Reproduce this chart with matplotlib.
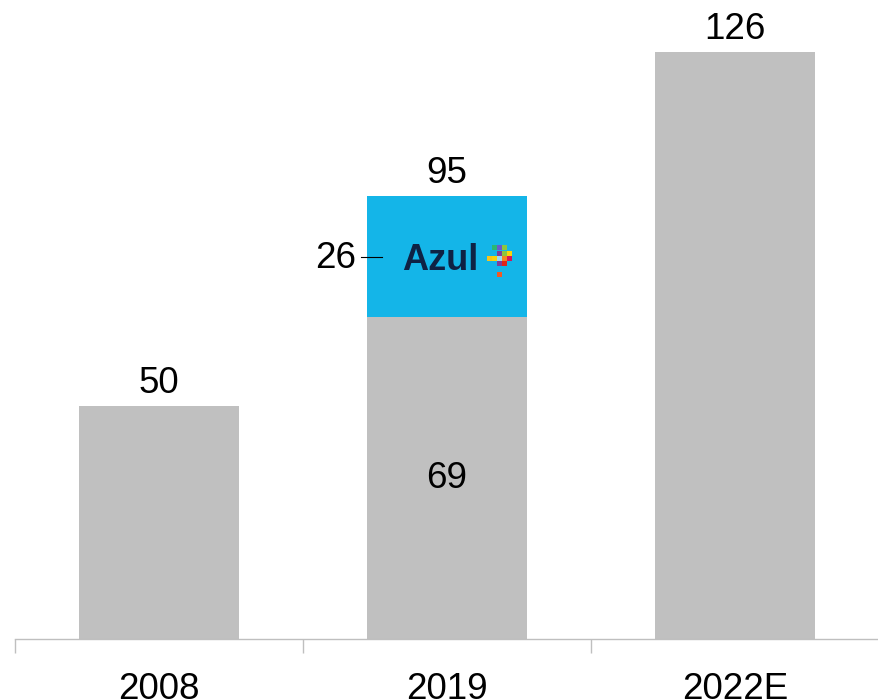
import matplotlib
matplotlib.use("Agg")
import matplotlib.pyplot as plt
from matplotlib.patches import Rectangle

plt.rcParams['font.family'] = ['Liberation Sans', 'DejaVu Sans']

categories = ["2008", "2019", "2022E"]
base_values = [50, 69, 126]
azul_values = [0, 26, 0]
totals = [50, 95, 126]

GRAY = "#c0c0c0"
CYAN = "#14b5e8"
NAVY = "#0e2244"

W, H = 879, 699
fig = plt.figure(figsize=(W / 100, H / 100), dpi=100)
ax = fig.add_axes([15 / W, (H - 639) / H, 1 - 15 / W, 639 / H])

x = list(range(len(categories)))
bw = 0.555
ax.bar(x, base_values, width=bw, color=GRAY, zorder=2)
ax.bar(x, azul_values, width=bw, bottom=base_values, color=CYAN, zorder=2)

ax.set_xlim(-0.5, -0.5 + (W - 15) / 292)
ax.set_ylim(0, 639 / 4.66)

fs = 26.5
for xi, t in zip(x, totals):
    ax.annotate(str(t), (xi, t), xytext=(0, 3.5), textcoords="offset points",
                ha="center", va="bottom", fontsize=fs)

# inner label of 2019 base
ax.text(1, base_values[1] / 2, str(base_values[1]), ha="center", va="center", fontsize=fs)

# Azul segment label with leader line
mid = base_values[1] + azul_values[1] / 2
ax.plot([0.703, 0.776], [mid, mid], color="black", lw=0.8, zorder=3)
ax.annotate(str(azul_values[1]), (0.683, mid), xytext=(0, -1), textcoords="offset points",
            ha="right", va="center", fontsize=fs)

# Azul logo text
ax.annotate("Azul", (0.975, mid), xytext=(0, -2.5), textcoords="offset points",
            ha="center", va="center", fontsize=26, fontweight="bold", color=NAVY, zorder=4)
# mosaic mark
tiles = [(0, 0, "#9bdcf5"), (1, 1, "#8cc63f"), (-1, 0, "#fbd30b"), (-2, 0, "#f7c51b"),
         (0, 1, "#7f3f98"), (1, 0, "#f58220"), (0, -1, "#7f3f98"), (1, -1, "#e2231a"),
         (2, 0, "#d4145a"), (-1, 2, "#2bb673"), (0, 2, "#6a5acd"), (1, 2, "#8dc63f"),
         (0, -3, "#f15a24"), (2, 1, "#fbd30b")]
cx, cy = 1.183, mid - 0.3
dx, dy = 0.018, 1.15
for i, j, c in tiles:
    ax.add_patch(Rectangle((cx + i * dx - dx / 2, cy + j * dy - dy / 2), dx * 0.95, dy * 0.95,
                           color=c, zorder=4, lw=0))

for s in ["top", "right", "left"]:
    ax.spines[s].set_visible(False)
ax.spines["bottom"].set_color("#bfbfbf")
ax.spines["bottom"].set_linewidth(1.0)
ax.set_yticks([])
ax.set_xticks(x)
ax.set_xticklabels(categories, fontsize=fs)
ax.set_xticks([-0.5, 0.5, 1.5, 2.5], minor=True)
ax.tick_params(axis="x", which="major", length=0, pad=24)
ax.tick_params(axis="x", which="minor", length=10, color="#bfbfbf", width=1.0)

fig.savefig("out.png", dpi=100)
